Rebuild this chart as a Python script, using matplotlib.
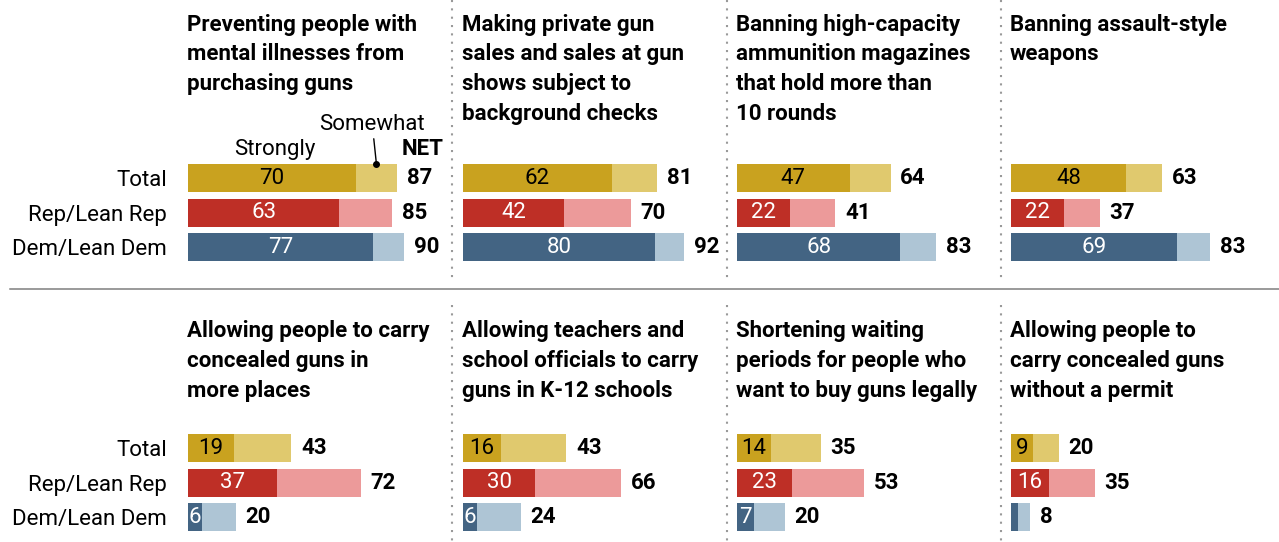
import matplotlib.pyplot as plt
from matplotlib.lines import Line2D

plt.rcParams['font.family'] = ['Roboto', 'DejaVu Sans']

W, H = 1279, 542

titles = [
    "Preventing people with\nmental illnesses from\npurchasing guns",
    "Making private gun\nsales and sales at gun\nshows subject to\nbackground checks",
    "Banning high-capacity\nammunition magazines\nthat hold more than\n10 rounds",
    "Banning assault-style\nweapons",
    "Allowing people to carry\nconcealed guns in\nmore places",
    "Allowing teachers and\nschool officials to carry\nguns in K-12 schools",
    "Shortening waiting\nperiods for people who\nwant to buy guns legally",
    "Allowing people to\ncarry concealed guns\nwithout a permit",
]
groups = ["Total", "Rep/Lean Rep", "Dem/Lean Dem"]
strongly = [
    [70, 63, 77], [62, 42, 80], [47, 22, 68], [48, 22, 69],
    [19, 37, 6], [16, 30, 6], [14, 23, 7], [9, 16, 3],
]
net = [
    [87, 85, 90], [81, 70, 92], [64, 41, 83], [63, 37, 83],
    [43, 72, 20], [43, 66, 24], [35, 53, 20], [20, 35, 8],
]

dark = ["#C9A21F", "#BE2F26", "#436483"]
light = ["#E0C96E", "#EC9A9A", "#AEC5D5"]
inside_color = ["black", "white", "white"]

col_left = [188, 463, 737, 1011]
row_top = [161, 431]
panel_w, panel_h = 240, 103.5
fs = 16


def rect(left, top, width, height):
    return [left / W, 1 - (top + height) / H, width / W, height / H]


fig = plt.figure(figsize=(W / 100, H / 100), dpi=100)

for i in range(8):
    r, c = divmod(i, 4)
    ax = fig.add_axes(rect(col_left[c], row_top[r], panel_w, panel_h))
    y = range(3)
    ax.barh(y, strongly[i], height=0.81, color=dark)
    ax.barh(y, [n - s for n, s in zip(net[i], strongly[i])], left=strongly[i],
            height=0.81, color=light)
    for k in y:
        if strongly[i][k] >= 5:
            ax.text(strongly[i][k] / 2, k, str(strongly[i][k]), ha="center",
                    va="center", fontsize=fs, color=inside_color[k])
        ax.annotate(str(net[i][k]), (net[i][k], k), xytext=(7, 0),
                    textcoords="offset points", ha="left", va="center",
                    fontsize=fs, fontweight="bold", annotation_clip=False)
    ax.set_xlim(0, 100)
    ax.set_ylim(2.5, -0.5)
    for s in ax.spines.values():
        s.set_visible(False)
    ax.set_xticks([])
    if c == 0:
        ax.set_yticks(list(y))
        ax.set_yticklabels(groups, fontsize=fs)
        ax.tick_params(axis="y", length=0, pad=15)
    else:
        ax.set_yticks([])
    fig.text((col_left[c] - 1) / W, 1 - (13.5 + r * 307) / H, titles[i],
             ha="left", va="top", fontsize=fs, fontweight="bold",
             linespacing=1.46)

    if i == 0:
        s0, n0 = strongly[0][0], net[0][0]
        ax.annotate("Strongly", (s0 / 2, -0.5), xytext=(2, 1),
                    textcoords="offset points", ha="center", va="bottom",
                    fontsize=fs, annotation_clip=False)
        ax.annotate("NET", (n0, -0.5), xytext=(3.5, 1),
                    textcoords="offset points", ha="left", va="bottom",
                    fontsize=fs, fontweight="bold", annotation_clip=False)
        mid = (s0 + n0) / 2
        ax.plot([mid], [-0.42], "o", color="black", ms=4, clip_on=False)
        ax.annotate("Somewhat", (mid, -0.42), xytext=(-3, 21),
                    textcoords="offset points", ha="center", va="bottom",
                    fontsize=fs, annotation_clip=False,
                    arrowprops=dict(arrowstyle="-", color="black", lw=1,
                                    shrinkA=1, shrinkB=0))

# dotted separators between columns, solid rule between rows
for x in [452, 727, 1001]:
    for y0, y1 in [(0, 278), (305, 542)]:
        fig.add_artist(Line2D([x / W, x / W], [1 - y0 / H, 1 - y1 / H],
                              color="#999999", lw=1.5, linestyle=(0, (1, 3))))
fig.add_artist(Line2D([10 / W, 1], [1 - 289 / H, 1 - 289 / H],
                      color="#7f7f7f", lw=1.1))

fig.savefig("out.png", dpi=100)
